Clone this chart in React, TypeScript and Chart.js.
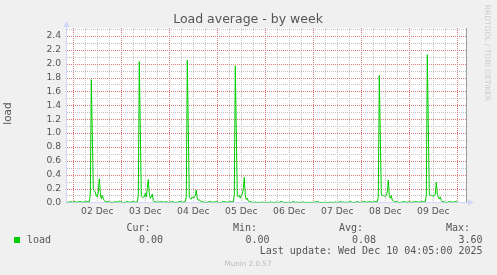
import { useEffect, useRef } from "react";
import { Chart, registerables } from "chart.js";

Chart.register(...registerables);

// ---- text ----
const TITLE = "Load average - by week";
const Y_LABEL = "load";
const SERIES_NAME = "load";
const SERIES_COLOR = "#00CC00";
const MONTH = "Dec";
const statHeaders = ["Cur:", "Min:", "Avg:", "Max:"];
const statValues = ["0.00", "0.00", "0.08", "3.60"];
const LAST_UPDATE = "Last update: Wed Dec 10 04:05:00 2025";
const FOOTER = "Munin 2.0.57";
const WATERMARK = "RRDTOOL / TOBI OETIKER";

// ---- axes (x in hours since 01 Dec 00:00) ----
const X_MIN = 20.85;
const X_MAX = 220.85;
const X_STEP_HOURS = 6;
const Y_MIN = 0;
const Y_MAX = 2.5;
const Y_STEP = 0.1;

// ---- data: [hour since 01 Dec 00:00, load] ----
const dec01: [number, number][] = [[20.5, 0.01], [21.5, 0.0], [22.0, 0.01], [23.0, 0.01], [23.5, 0.0]];
const dec02: [number, number][] = [
  [24.0, 0.01], [25.0, 0.01], [25.5, 0.0], [26.5, 0.01], [28.0, 0.01], [28.5, 0.0], [29.5, 0.01], [31.0, 0.01],
  [32.0, 0.01], [32.5, 0.1], [33.0, 1.77], [34.0, 0.19], [34.5, 0.17], [35.0, 0.15], [35.5, 0.09], [36.0, 0.08],
  [36.5, 0.15], [37.0, 0.34], [37.5, 0.14], [38.0, 0.05], [38.5, 0.1], [39.0, 0.05], [39.5, 0.03], [40.0, 0.01],
  [41.0, 0.01], [42.0, 0.01], [42.5, 0.0], [44.0, 0.0], [44.5, 0.01], [45.5, 0.01], [46.0, 0.0], [47.0, 0.02], [47.5, 0.01],
];
const dec03: [number, number][] = [
  [48.0, 0.01], [48.5, 0.0], [50.0, 0.0], [50.5, 0.01], [51.5, 0.01], [52.0, 0.0], [53.5, 0.01], [54.5, 0.01],
  [55.0, 0.0], [56.0, 0.01], [56.5, 0.1], [57.0, 2.03], [58.0, 0.09], [59.0, 0.07], [59.5, 0.08], [60.0, 0.13],
  [60.5, 0.08], [61.0, 0.2], [61.5, 0.33], [62.0, 0.12], [62.5, 0.06], [63.0, 0.08], [63.5, 0.12], [64.0, 0.03],
  [64.5, 0.01], [65.5, 0.01], [66.0, 0.0], [67.5, 0.01], [68.5, 0.01], [69.0, 0.0], [70.5, 0.01], [71.5, 0.0],
];
const dec04: [number, number][] = [
  [72.0, 0.0], [73.0, 0.01], [74.0, 0.01], [74.5, 0.0], [76.0, 0.0], [76.5, 0.01], [78.0, 0.01], [78.5, 0.0],
  [79.5, 0.01], [80.0, 0.01], [80.5, 0.08], [81.0, 2.05], [82.0, 0.07], [82.5, 0.06], [83.0, 0.05], [83.5, 0.08],
  [84.0, 0.06], [84.5, 0.08], [85.0, 0.1], [85.5, 0.18], [86.0, 0.05], [86.5, 0.03], [87.0, 0.04], [87.5, 0.02],
  [88.0, 0.01], [89.0, 0.01], [89.5, 0.0], [91.0, 0.0], [91.5, 0.01], [93.0, 0.01], [93.5, 0.0], [95.0, 0.01],
];
const dec05: [number, number][] = [
  [96.0, 0.01], [96.5, 0.0], [98.0, 0.0], [98.5, 0.01], [100.0, 0.01], [100.5, 0.0], [102.0, 0.01], [103.0, 0.01],
  [104.0, 0.01], [104.5, 0.1], [105.0, 1.97], [106.0, 0.09], [106.5, 0.09], [107.0, 0.1], [107.5, 0.06], [108.0, 0.1],
  [108.5, 0.12], [109.0, 0.2], [109.5, 0.36], [110.0, 0.1], [110.5, 0.04], [111.0, 0.06], [111.5, 0.02], [112.0, 0.01],
  [113.0, 0.01], [113.5, 0.0], [114.5, 0.0], [115.0, 0.01], [115.5, 0.0], [118.0, 0.0], [118.5, 0.01], [119.0, 0.0],
];
const dec06: [number, number][] = [
  [120.0, 0.0], [122.0, 0.0], [122.5, 0.01], [123.0, 0.0], [125.0, 0.0], [125.5, 0.01], [126.0, 0.0], [127.0, 0.0],
  [127.5, 0.01], [128.5, 0.01], [129.0, 0.0], [133.0, 0.0], [133.5, 0.01], [134.5, 0.01], [135.0, 0.0], [135.5, 0.0],
  [136.0, 0.01], [136.5, 0.0], [138.5, 0.0], [139.0, 0.01], [139.5, 0.0], [143.5, 0.0],
];
const dec07: [number, number][] = [
  [144.5, 0.0], [145.0, 0.01], [146.5, 0.01], [147.0, 0.0], [154.5, 0.0], [155.0, 0.01], [155.5, 0.0], [156.5, 0.0],
  [157.0, 0.01], [158.0, 0.01], [158.5, 0.0], [159.0, 0.01], [159.5, 0.0], [160.0, 0.0], [160.5, 0.01], [161.0, 0.0],
  [161.5, 0.0], [162.0, 0.01], [163.0, 0.01], [163.5, 0.0], [165.0, 0.0], [165.5, 0.01], [166.5, 0.01], [167.0, 0.0],
];
const dec08: [number, number][] = [
  [168.0, 0.0], [168.5, 0.01], [170.0, 0.01], [170.5, 0.0], [171.5, 0.01], [173.0, 0.01], [173.5, 0.0], [174.5, 0.01],
  [176.0, 0.01], [176.5, 0.08], [177.0, 1.83], [178.0, 0.11], [179.0, 0.1], [179.5, 0.09], [180.0, 0.09], [180.5, 0.1],
  [181.0, 0.15], [181.5, 0.32], [182.0, 0.1], [182.5, 0.06], [183.0, 0.1], [183.5, 0.03], [184.0, 0.02], [184.5, 0.01],
  [186.0, 0.01], [186.5, 0.0], [188.0, 0.0], [188.5, 0.01], [190.0, 0.01], [190.5, 0.0], [191.5, 0.01],
];
const dec09: [number, number][] = [
  [192.0, 0.01], [193.0, 0.0], [194.5, 0.01], [196.0, 0.01], [196.5, 0.0], [197.5, 0.01], [199.0, 0.01], [200.0, 0.01],
  [200.5, 0.1], [201.0, 2.13], [202.0, 0.11], [203.0, 0.1], [204.0, 0.09], [204.5, 0.1], [205.0, 0.12], [205.5, 0.29],
  [206.0, 0.12], [206.5, 0.08], [207.0, 0.05], [207.5, 0.08], [208.0, 0.03], [208.5, 0.01], [209.5, 0.01], [210.0, 0.0],
  [211.0, 0.0], [211.5, 0.01], [213.0, 0.01], [213.5, 0.0], [214.5, 0.01], [216.0, 0.01],
];

const FONT = '"DejaVu Sans", sans-serif';
const MONO = '"DejaVu Sans Mono", monospace';
const TEXT = "#555555";
const MAJOR_GRID = "#E07C7C";
const MINOR_GRID = "#C4C4C4";
const AXIS = "#CFD6F8";
const FRAME = "#9E9E9E";

const isMajorY = (v: number) => Math.round(v * 10) % 2 === 0;
const isMajorX = (v: number) => Math.round(v) % 24 === 0;

const muninPlugin = {
  id: "muninDecor",
  beforeDraw(chart: any) {
    const { ctx, chartArea: a, width, height } = chart;
    ctx.save();
    ctx.fillStyle = "#F0F0F0";
    ctx.fillRect(0, 0, width, height);
    ctx.fillStyle = "#FFFFFF";
    const bottom = Math.round(a.bottom);
    ctx.fillRect(a.left, a.top - 1, a.right - a.left, bottom - a.top + 1);
    ctx.restore();
  },
  beforeDatasetsDraw(chart: any) {
    const { ctx, chartArea: a, scales } = chart;
    const xs = scales.x;
    const ys = scales.y;
    const left = Math.round(a.left);
    const right = Math.round(a.right) - 1;
    const top = Math.round(a.top) - 1;
    const bottom = Math.round(a.bottom);
    ctx.save();
    // dotted grid, minor first then major
    for (const major of [false, true]) {
      ctx.fillStyle = major ? MAJOR_GRID : MINOR_GRID;
      for (const t of ys.ticks) {
        if (isMajorY(t.value) !== major) continue;
        const row = Math.round(ys.getPixelForValue(t.value));
        if (row >= bottom) continue;
        for (let c = left; c < right; c += 2) ctx.fillRect(c, row, 1, 1);
      }
      for (const t of xs.ticks) {
        if (isMajorX(t.value) !== major) continue;
        const col = Math.floor(xs.getPixelForValue(t.value));
        if (col <= left || col >= right) continue;
        for (let r = top; r < bottom; r += 2) ctx.fillRect(col, r, 1, 1);
      }
    }
    // right frame
    ctx.strokeStyle = FRAME;
    ctx.lineWidth = 1;
    ctx.beginPath();
    ctx.moveTo(right + 0.5, top);
    ctx.lineTo(right + 0.5, bottom + 1);
    ctx.stroke();
    // axes
    const ax = left - 0.5;
    const ay = bottom + 0.5;
    ctx.strokeStyle = AXIS;
    ctx.beginPath();
    ctx.moveTo(ax, ay + 1);
    ctx.lineTo(ax, top - 2);
    ctx.moveTo(ax - 0.5, ay);
    ctx.lineTo(right + 4, ay);
    ctx.stroke();
    ctx.fillStyle = AXIS;
    ctx.beginPath();
    ctx.moveTo(ax, top - 7);
    ctx.lineTo(ax - 3, top - 1);
    ctx.lineTo(ax + 3, top - 1);
    ctx.closePath();
    ctx.fill();
    ctx.beginPath();
    ctx.moveTo(right + 8, ay);
    ctx.lineTo(right + 2, ay - 3);
    ctx.lineTo(right + 2, ay + 3);
    ctx.closePath();
    ctx.fill();
    ctx.restore();
  },
  afterDraw(chart: any) {
    const { ctx } = chart;
    ctx.save();
    // title
    ctx.fillStyle = TEXT;
    ctx.font = `12.5px ${FONT}`;
    ctx.textAlign = "center";
    ctx.textBaseline = "alphabetic";
    ctx.fillText(TITLE, 248, 23);
    // y label
    ctx.save();
    ctx.translate(11, 113.5);
    ctx.rotate(-Math.PI / 2);
    ctx.font = `10.5px ${FONT}`;
    ctx.textAlign = "center";
    ctx.textBaseline = "alphabetic";
    ctx.fillText(Y_LABEL, 0, 0);
    ctx.restore();
    // watermark
    ctx.save();
    ctx.translate(485, 53);
    ctx.rotate(Math.PI / 2);
    ctx.fillStyle = "#CCCCCC";
    ctx.font = `7.5px ${FONT}`;
    ctx.textAlign = "center";
    ctx.textBaseline = "alphabetic";
    ctx.fillText(WATERMARK, 0, 0);
    ctx.restore();
    // legend
    ctx.fillStyle = SERIES_COLOR;
    ctx.fillRect(14, 237, 6, 6);
    ctx.fillStyle = TEXT;
    ctx.font = `10px ${MONO}`;
    ctx.textBaseline = "middle";
    ctx.textAlign = "left";
    ctx.fillText(SERIES_NAME, 27, 240);
    ctx.textAlign = "right";
    const headerRight = [150.5, 257, 363, 470];
    const valueRight = [163, 269.5, 376, 482.5];
    statHeaders.forEach((h, i) => ctx.fillText(h, headerRight[i], 228.5));
    statValues.forEach((v, i) => ctx.fillText(v, valueRight[i], 240));
    ctx.fillText(LAST_UPDATE, 482.5, 251.5);
    // footer
    ctx.fillStyle = "#BBBBBB";
    ctx.font = `7.2px ${FONT}`;
    ctx.textAlign = "center";
    ctx.fillText(FOOTER, 248, 264.5);
    ctx.restore();
  },
};

export default function App() {
  const ref = useRef<HTMLCanvasElement | null>(null);
  useEffect(() => {
    if (!ref.current) return;
    const points = [...dec01, ...dec02, ...dec03, ...dec04, ...dec05, ...dec06, ...dec07, ...dec08, ...dec09].map(
      ([x, y]) => ({ x, y })
    );
    const chart = new Chart(ref.current, {
      type: "line",
      data: {
        datasets: [
          {
            label: SERIES_NAME,
            data: points,
            borderColor: SERIES_COLOR,
            backgroundColor: SERIES_COLOR,
            borderWidth: 1,
            pointRadius: 0,
            tension: 0,
            fill: false,
          },
        ],
      },
      options: {
        animation: false,
        responsive: false,
        devicePixelRatio: 1,
        layout: { padding: { left: 0, top: 29, right: 30, bottom: 52.6 } },
        plugins: { legend: { display: false }, tooltip: { enabled: false }, title: { display: false } },
        scales: {
          x: {
            type: "linear",
            min: X_MIN,
            max: X_MAX,
            afterFit: (s: any) => {
              s.height = 20;
            },
            ticks: {
              stepSize: X_STEP_HOURS,
              includeBounds: false,
              autoSkip: false,
              maxRotation: 0,
              minRotation: 0,
              padding: 1,
              color: TEXT,
              font: { family: FONT, size: 9.2 },
              callback: (v: any) => {
                const n = Number(v);
                if (Math.round(n) % 24 !== 12) return "";
                const d = Math.floor(n / 24) + 1;
                return `${String(d).padStart(2, "0")} ${MONTH}`;
              },
            },
            grid: { display: false, drawTicks: true, tickLength: 3 },
            border: { display: false },
          },
          y: {
            min: Y_MIN,
            max: Y_MAX,
            afterFit: (s: any) => {
              s.width = 67;
            },
            ticks: {
              stepSize: Y_STEP,
              autoSkip: false,
              padding: 3,
              color: TEXT,
              font: { family: FONT, size: 9.2 },
              callback: (v: any) => {
                const k = Math.round(Number(v) * 10);
                return k % 2 === 0 ? (k / 10).toFixed(1) : "";
              },
            },
            grid: { display: false, drawTicks: true, tickLength: 3 },
            border: { display: false },
          },
        },
      },
      plugins: [muninPlugin],
    } as any);
    return () => chart.destroy();
  }, []);
  return (
    <div style={{ position: "fixed", left: 0, top: 0, width: 497, height: 275, background: "#F0F0F0" }}>
      <canvas ref={ref} width={497} height={275} style={{ display: "block", width: 497, height: 275 }} />
    </div>
  );
}
